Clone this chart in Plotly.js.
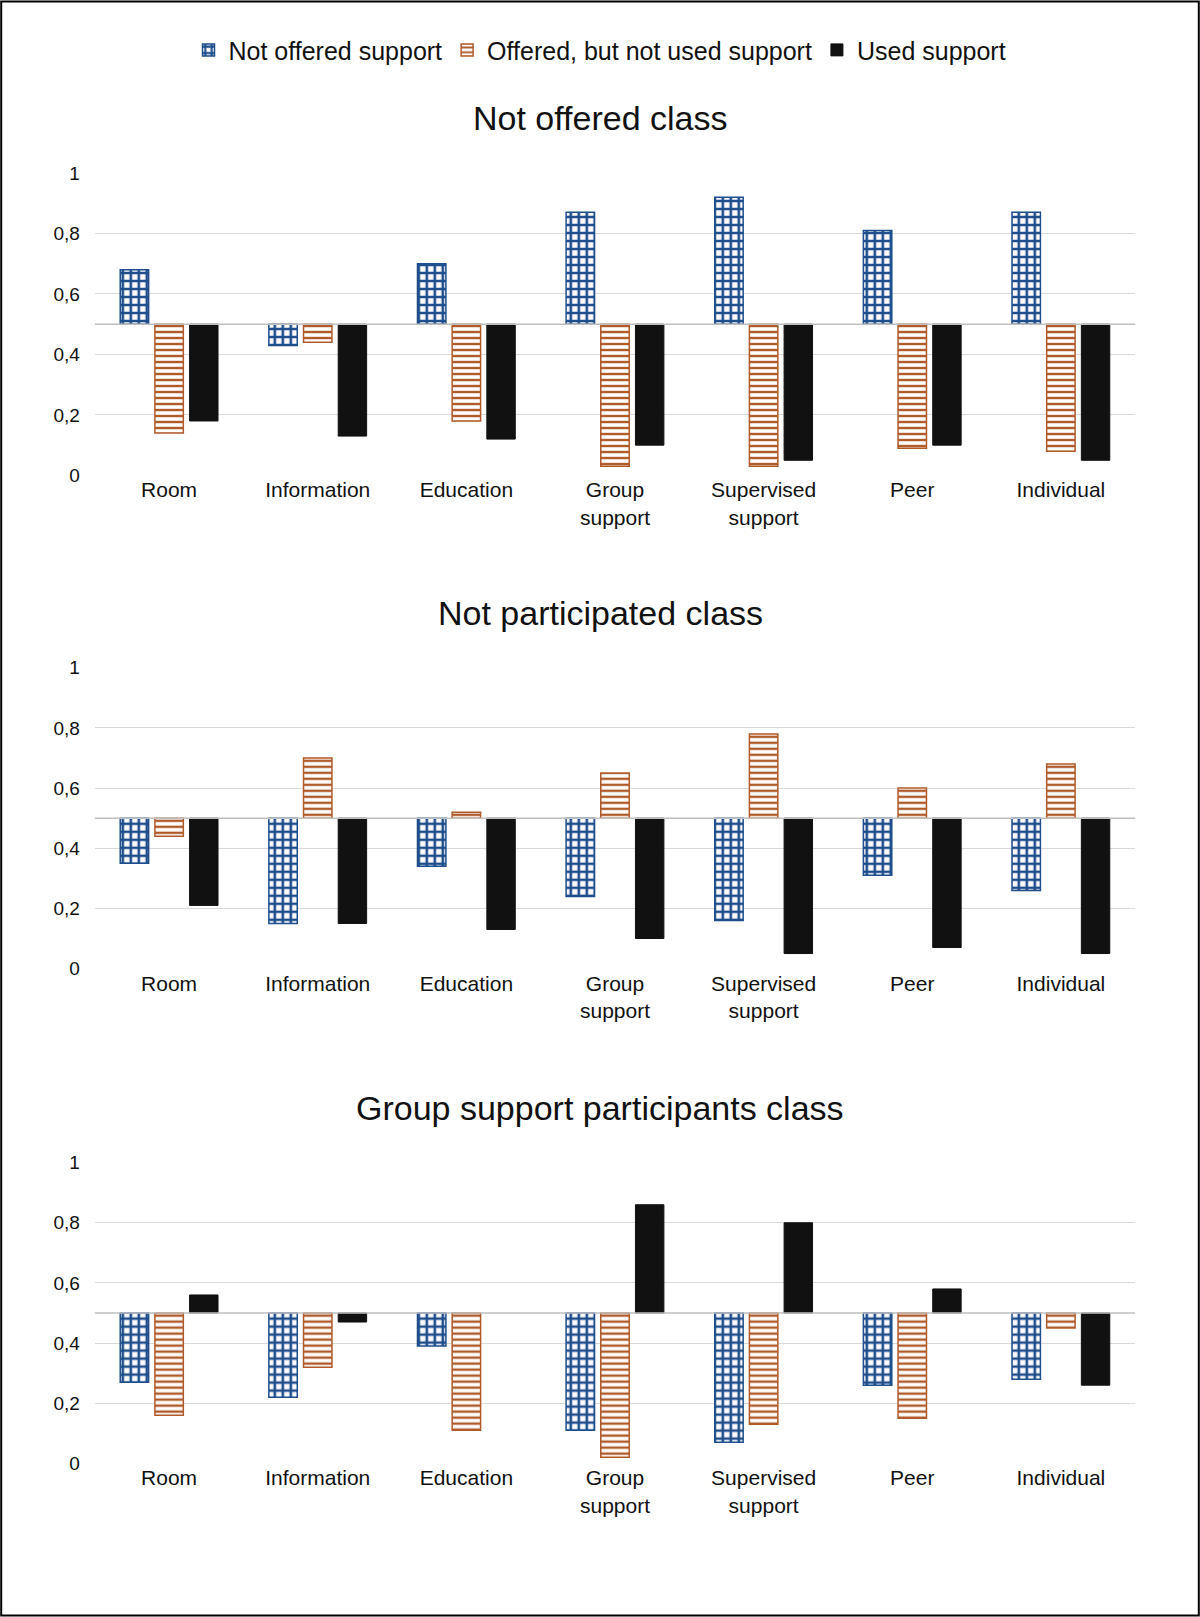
<!DOCTYPE html>
<html>
<head>
<meta charset="utf-8">
<script src="https://cdn.plot.ly/plotly-3.0.1.min.js"></script>
<style>body{margin:0;} #chart{width:1200px;height:1617px;}</style>
</head>
<body>
<div id="chart"></div>
<script>
const categories = ['Room', 'Information', 'Education', 'Group<br>support', 'Supervised<br>support', 'Peer', 'Individual'];
const seriesNames = ['Not offered support', 'Offered, but not used support', 'Used support'];
const panelTitles = ['Not offered class', 'Not participated class', 'Group support participants class'];

// values per panel: [not offered, offered not used, used]
const notOfferedClass = [
    [0.68, 0.43, 0.70, 0.87, 0.92, 0.81, 0.87],
    [0.14, 0.44, 0.18, 0.03, 0.03, 0.09, 0.08],
    [0.18, 0.13, 0.12, 0.10, 0.05, 0.10, 0.05]
];
const notParticipatedClass = [
    [0.35, 0.15, 0.34, 0.24, 0.16, 0.31, 0.26],
    [0.44, 0.70, 0.52, 0.65, 0.78, 0.60, 0.68],
    [0.21, 0.15, 0.13, 0.10, 0.05, 0.07, 0.05]
];
const groupSupportClass = [
    [0.27, 0.22, 0.39, 0.11, 0.07, 0.26, 0.28],
    [0.16, 0.32, 0.11, 0.02, 0.13, 0.15, 0.45],
    [0.56, 0.47, null, 0.86, 0.80, 0.58, 0.26]
];
const tickVals = [0, 0.2, 0.4, 0.6, 0.8, 1];
const tickText = ['0', '0,2', '0,4', '0,6', '0,8', '1'];

const panels = [notOfferedClass, notParticipatedClass, groupSupportClass];
const domains = [[0.706, 0.893], [0.401, 0.587], [0.095, 0.281]];
const titleY = [0.927, 0.621, 0.315];

const styles = [
    {color: '#fff', line: {color: '#1f4e8c', width: 1.5}, pattern: {shape: '+', fgcolor: '#1f4e8c', bgcolor: '#fff', size: 8, solidity: 0.55}},
    {color: '#fff', line: {color: '#b05a2a', width: 1.5}, pattern: {shape: '-', fgcolor: '#b05a2a', bgcolor: '#fff', size: 6, solidity: 0.4}},
    {color: '#111', line: {color: '#111', width: 1}}
];

let data = [];
let layout = {
    width: 1200, height: 1617,
    margin: {l: 0, r: 0, t: 0, b: 0},
    paper_bgcolor: '#fff', plot_bgcolor: '#fff',
    barmode: 'group', bargap: 0.3, bargroupgap: 0.18,
    font: {family: 'Liberation Sans, Arial', size: 20, color: '#111'},
    legend: {orientation: 'h', x: 0.5, xanchor: 'center', y: 0.969, yanchor: 'middle',
             font: {size: 25}, itemwidth: 30, tracegroupgap: 0},
    annotations: [], shapes: [
        {type: 'rect', xref: 'paper', yref: 'paper', x0: 0.001, x1: 0.999, y0: 0.001, y1: 0.999, line: {color: '#000', width: 2}}
    ]
};

panels.forEach((panel, p) => {
    const sfx = p === 0 ? '' : String(p + 1);
    panel.forEach((vals, s) => {
        data.push({
            type: 'bar',
            name: seriesNames[s],
            x: categories,
            y: vals.map(v => v === null ? null : v - 0.5),
            base: 0.5,
            marker: styles[s],
            showlegend: p === 0,
            xaxis: 'x' + sfx, yaxis: 'y' + sfx,
            hoverinfo: 'skip'
        });
    });
    layout['xaxis' + sfx] = {
        domain: [0.079, 0.946], anchor: 'y' + sfx, showline: false, ticks: '',
        tickfont: {size: 21}, fixedrange: true
    };
    layout['yaxis' + sfx] = {
        domain: domains[p], anchor: 'x' + sfx, range: [0, 1],
        tickvals: tickVals, ticktext: tickText, showgrid: true, gridcolor: '#d9d9d9',
        zeroline: false, showline: false, tickfont: {size: 19}, ticklabelstandoff: 14
    };
    layout.annotations.push({
        text: panelTitles[p], xref: 'paper', yref: 'paper', x: 0.5, y: titleY[p],
        showarrow: false, font: {size: 34}, yanchor: 'middle'
    });
    layout.shapes.push({
        type: 'line', xref: 'x' + sfx + ' domain', yref: 'y' + sfx,
        x0: 0, x1: 1, y0: 0.5, y1: 0.5, line: {color: '#bfbfbf', width: 1.5}
    });
});

Plotly.newPlot('chart', data, layout, {displayModeBar: false});
</script>
</body>
</html>
